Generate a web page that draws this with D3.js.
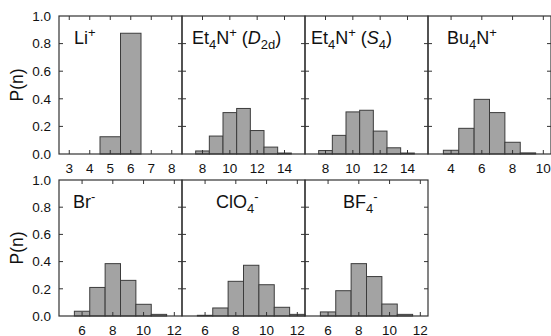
<!DOCTYPE HTML>
<html>
<head>
<meta charset="utf-8">
<title>P(n)</title>
<script src="https://d3js.org/d3.v7.min.js"></script>
<style>
  body { margin: 0; background: #ffffff; }
  text { font-family: "Liberation Sans", Arial, sans-serif; fill: #111111; }
</style>
</head>

<body>
<script>

"use strict";

// data
const liN = [5, 6];
const liP = [0.125, 0.875];
const d2dN = [8, 9, 10, 11, 12, 13, 14];
const d2dP = [0.022, 0.13, 0.30, 0.33, 0.17, 0.05, 0.007];
const s4N = [8, 9, 10, 11, 12, 13, 14];
const s4P = [0.025, 0.135, 0.305, 0.317, 0.166, 0.045, 0.007];
const bu4N = [4, 5, 6, 7, 8, 9];
const bu4P = [0.027, 0.186, 0.396, 0.30, 0.085, 0.008];
const brN = [6, 7, 8, 9, 10, 11];
const brP = [0.035, 0.21, 0.385, 0.262, 0.086, 0.012];
const clo4N = [6, 7, 8, 9, 10, 11, 12];
const clo4P = [0.005, 0.059, 0.255, 0.373, 0.23, 0.064, 0.012];
const bf4N = [6, 7, 8, 9, 10, 11];
const bf4P = [0.03, 0.186, 0.385, 0.29, 0.088, 0.012];

const liTicks = [3, 4, 5, 6, 7, 8];
const etTicks = [8, 10, 12, 14];
const buTicks = [4, 6, 8, 10];
const anionTicks = [6, 8, 10, 12];
const yTicks = [0, 0.2, 0.4, 0.6, 0.8, 1.0];

const svg = d3.select("body").append("svg")
  .attr("width", 551)
  .attr("height", 336);

const colX = [59, 182, 305, 428];
const rows = [{top: 16, bottom: 154}, {top: 180, bottom: 316}];
const panelW = 123;
const tickLen = 4;

const panels = [
  {col: 0, row: 0, n: liN, p: liP, dom: [2.5, 8.5], ticks: liTicks,
    label: [{t: "Li"}, {t: "+", sup: true}], lx: 74},
  {col: 1, row: 0, n: d2dN, p: d2dP, dom: [6.5, 15.5], ticks: etTicks,
    label: [{t: "Et"}, {t: "4", sub: true}, {t: "N"}, {t: "+", sup: true}, {t: "\u00a0("},
      {t: "D", it: true}, {t: "2d", sub: true}, {t: ")"}], lx: 192},
  {col: 2, row: 0, n: s4N, p: s4P, dom: [6.5, 15.5], ticks: etTicks,
    label: [{t: "Et"}, {t: "4", sub: true}, {t: "N"}, {t: "+", sup: true}, {t: "\u00a0("},
      {t: "S", it: true}, {t: "4", sub: true}, {t: ")"}], lx: 311},
  {col: 3, row: 0, n: bu4N, p: bu4P, dom: [2.5, 10.5], ticks: buTicks,
    label: [{t: "Bu"}, {t: "4", sub: true}, {t: "N"}, {t: "+", sup: true}], lx: 447},
  {col: 0, row: 1, n: brN, p: brP, dom: [4.5, 12.5], ticks: anionTicks,
    label: [{t: "Br"}, {t: "-", sup: true}], lx: 73},
  {col: 1, row: 1, n: clo4N, p: clo4P, dom: [4.5, 12.5], ticks: anionTicks,
    label: [{t: "ClO"}, {t: "4", sub: true}, {t: "-", sup: true}], lx: 216},
  {col: 2, row: 1, n: bf4N, p: bf4P, dom: [4.5, 12.5], ticks: anionTicks,
    label: [{t: "BF"}, {t: "4", sub: true}, {t: "-", sup: true}], lx: 343}
];

function drawLabel(g, segs, x, y) {
  let text = g.append("text")
    .attr("x", x)
    .attr("y", y)
    .attr("font-size", 18);
  let shift = 0;
  for (let s of segs) {
    let target = s.sub ? 5 : (s.sup ? -7 : 0);
    let ts = text.append("tspan")
      .attr("dy", target - shift)
      .attr("font-size", (s.sub || s.sup) ? 13 : 18)
      .text(s.t);
    if (s.it) ts.attr("font-style", "italic");
    shift = target;
  }
}

for (let pn of panels) {
  let x0 = colX[pn.col];
  let r = rows[pn.row];
  let x = d3.scaleLinear().domain(pn.dom).range([x0, x0 + panelW]);
  let y = d3.scaleLinear().domain([0, 1]).range([r.bottom, r.top]);
  let g = svg.append("g");

  let bars = pn.n.map((d, i) => ({n: d, p: pn.p[i]}));
  g.selectAll("rect")
    .data(bars)
    .enter()
    .append("rect")
    .attr("x", (d) => x(d.n - 0.5))
    .attr("y", (d) => y(d.p))
    .attr("width", (d) => x(d.n + 0.5) - x(d.n - 0.5))
    .attr("height", (d) => y(0) - y(d.p))
    .attr("fill", "#a3a3a3")
    .attr("stroke", "#3c3c3c")
    .attr("stroke-width", 1);

  // inward ticks on all four sides
  let tickColor = "#333333";
  g.selectAll(".xt")
    .data(pn.ticks)
    .enter()
    .append("path")
    .attr("d", (d) => "M" + x(d) + "," + r.bottom + "v" + (-tickLen) +
      "M" + x(d) + "," + r.top + "v" + tickLen)
    .attr("stroke", tickColor);
  g.selectAll(".yt")
    .data(yTicks.slice(1, -1))
    .enter()
    .append("path")
    .attr("d", (d) => "M" + x0 + "," + y(d) + "h" + tickLen +
      "M" + (x0 + panelW) + "," + y(d) + "h" + (-tickLen))
    .attr("stroke", tickColor);

  g.append("rect")
    .attr("x", x0)
    .attr("y", r.top)
    .attr("width", panelW)
    .attr("height", r.bottom - r.top)
    .attr("fill", "none")
    .attr("stroke", tickColor)
    .attr("stroke-width", 1.2);

  g.selectAll(".xl")
    .data(pn.ticks)
    .enter()
    .append("text")
    .attr("x", (d) => x(d))
    .attr("y", r.bottom + 18.5)
    .attr("text-anchor", "middle")
    .attr("font-size", 13.5)
    .text((d) => d);

  if (pn.col === 0) {
    g.selectAll(".yl")
      .data(yTicks)
      .enter()
      .append("text")
      .attr("x", x0 - 8)
      .attr("y", (d) => y(d))
      .attr("dy", "0.36em")
      .attr("text-anchor", "end")
      .attr("font-size", 13.5)
      .text((d) => d.toFixed(1));
    g.append("text")
      .attr("transform", "translate(23," + ((r.top + r.bottom) / 2) + ") rotate(-90)")
      .attr("text-anchor", "middle")
      .attr("font-size", 17.5)
      .text("P(n)");
  }

  drawLabel(g, pn.label, pn.lx, r.top + 28);
}

</script>
</body>
</html>
